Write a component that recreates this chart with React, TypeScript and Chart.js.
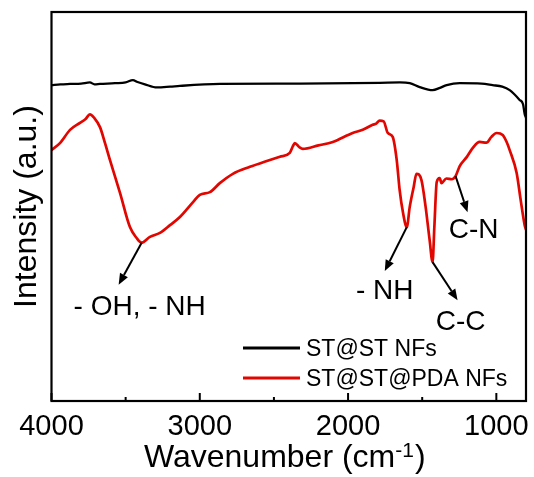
import { useEffect, useRef } from "react";
import { Chart, registerables } from "chart.js";

Chart.register(...registerables);

// ST@ST NFs spectrum (wavenumber in cm-1, intensity in arbitrary units)
const stWavenumber = [
  4000, 3940, 3875, 3800, 3741, 3710, 3673, 3572, 3500, 3451,
  3420, 3370, 3289, 3200, 3134, 2864, 2325, 1786, 1650, 1584,
  1517, 1430, 1380, 1335, 1247, 1100, 1025, 960, 910, 843,
  820, 809, 800,
];
const stIntensity = [
  81.2, 81.4, 81.5, 81.6, 81.9, 81.4, 81.5, 81.7, 81.9, 82.5,
  82.0, 81.4, 80.6, 80.8, 81.0, 81.5, 81.6, 81.8, 81.9, 81.7,
  80.7, 79.9, 80.5, 81.2, 81.7, 81.6, 81.2, 80.8, 79.9, 77.4,
  76.3, 73.8, 72.8,
];

// ST@ST@PDA NFs spectrum
const pdaWavenumber = [
  4000, 3943, 3875, 3808, 3770, 3741, 3712, 3673, 3639, 3606,
  3538, 3471, 3426, 3392, 3336, 3269, 3201, 3134, 3044, 3000,
  2932, 2865, 2777, 2662, 2548, 2460, 2393, 2372, 2359, 2330,
  2305, 2200, 2103, 1969, 1901, 1834, 1810, 1787, 1760, 1732,
  1699, 1672, 1652, 1629, 1604, 1584, 1557, 1539, 1505, 1477,
  1450, 1430, 1418, 1402, 1382, 1370, 1337, 1300, 1275, 1247,
  1200, 1160, 1112, 1067, 1033, 998, 957, 932, 910, 863,
  836, 809, 800,
];
const pdaIntensity = [
  64.5, 66.3, 69.7, 71.5, 72.5, 73.7, 72.8, 70.4, 66.3, 62.0,
  53.5, 44.7, 41.9, 40.7, 42.2, 43.2, 45.2, 47.3, 51.2, 53.0,
  53.7, 56.0, 58.4, 60.2, 61.7, 62.8, 63.8, 65.5, 66.3, 65.3,
  64.8, 65.7, 66.6, 68.9, 69.7, 71.0, 71.3, 72.1, 71.9, 68.9,
  67.9, 62.0, 54.2, 48.3, 44.7, 49.9, 55.1, 58.4, 56.8, 49.9,
  41.4, 35.7, 44.8, 56.3, 57.3, 56.0, 57.2, 57.0, 57.8, 60.4,
  62.7, 65.0, 66.6, 66.4, 67.9, 68.9, 68.4, 66.7, 64.5, 58.6,
  51.7, 45.2, 44.0,
];

const seriesLabels = ["ST@ST NFs", "ST@ST@PDA NFs"];
const seriesColors = ["#000000", "#e10600"];

const xMajorTicks = [4000, 3000, 2000, 1000];
const xMinorTicks = [3500, 2500, 1500];

// Assigned bands on the ST@ST@PDA NFs curve
const bandLabels = ["- OH, - NH", "- NH", "C-C", "C-N"];
const bandWavenumbers = [3392, 1604, 1430, 1275];

// Arrow tip and label offsets (px) from each band point
const bandArrowOffsets = [
  [-23, 42],
  [-22, 44],
  [25, 38],
  [12, 36],
];
const bandTextOffsets = [
  [-2, 72],
  [-22, 72],
  [28, 68],
  [18, 62],
];

const SANS = '"Liberation Sans", Arial, sans-serif';

function drawArrow(ctx: CanvasRenderingContext2D, x0: number, y0: number, x1: number, y1: number) {
  const ang = Math.atan2(y1 - y0, x1 - x0);
  const head = 11;
  const half = 4.5;
  const bx = x1 - head * Math.cos(ang);
  const by = y1 - head * Math.sin(ang);
  ctx.beginPath();
  ctx.moveTo(x0, y0);
  ctx.lineTo(bx, by);
  ctx.stroke();
  ctx.beginPath();
  ctx.moveTo(x1, y1);
  ctx.lineTo(bx + half * Math.sin(ang), by - half * Math.cos(ang));
  ctx.lineTo(bx - half * Math.sin(ang), by + half * Math.cos(ang));
  ctx.closePath();
  ctx.fill();
}

const overlay = {
  id: "spectrumOverlay",
  afterDatasetsDraw(chart: any) {
    const { ctx, chartArea, scales } = chart;
    const { left, right, top, bottom } = chartArea;
    const xs = scales.x;
    const ys = scales.y;
    ctx.save();

    // frame
    ctx.strokeStyle = "#000";
    ctx.lineWidth = 2.2;
    ctx.strokeRect(left, top, right - left, bottom - top);

    // inward tick marks
    ctx.lineWidth = 2;
    for (const v of xMajorTicks) {
      const px = xs.getPixelForValue(v);
      ctx.beginPath();
      ctx.moveTo(px, bottom);
      ctx.lineTo(px, bottom - 8);
      ctx.stroke();
    }
    for (const v of xMinorTicks) {
      const px = xs.getPixelForValue(v);
      ctx.beginPath();
      ctx.moveTo(px, bottom);
      ctx.lineTo(px, bottom - 4);
      ctx.stroke();
    }

    // band annotations
    ctx.fillStyle = "#000";
    ctx.strokeStyle = "#000";
    ctx.lineWidth = 2;
    ctx.font = `28px ${SANS}`;
    ctx.textAlign = "center";
    ctx.textBaseline = "alphabetic";
    bandLabels.forEach((label, i) => {
      const idx = pdaWavenumber.indexOf(bandWavenumbers[i]);
      const px = xs.getPixelForValue(pdaWavenumber[idx]);
      const py = ys.getPixelForValue(pdaIntensity[idx]);
      const [dx, dy] = bandArrowOffsets[i];
      drawArrow(ctx, px, py, px + dx, py + dy);
      const [tx, ty] = bandTextOffsets[i];
      ctx.fillText(label, px + tx, py + ty);
    });

    // legend
    const legendX = 243;
    const legendY = [348, 378];
    chart.data.datasets.forEach((ds: any, i: number) => {
      ctx.strokeStyle = ds.borderColor;
      ctx.lineWidth = 3;
      ctx.beginPath();
      ctx.moveTo(legendX, legendY[i]);
      ctx.lineTo(legendX + 57, legendY[i]);
      ctx.stroke();
      ctx.fillStyle = "#000";
      ctx.font = `23px ${SANS}`;
      ctx.textAlign = "left";
      ctx.fillText(ds.label, legendX + 63, legendY[i] + 8);
    });

    // x axis title with superscript
    const base = 467;
    const main = "Wavenumber (cm";
    const sup = "-1";
    const close = ")";
    ctx.fillStyle = "#000";
    ctx.textAlign = "left";
    ctx.font = `32px ${SANS}`;
    const wMain = ctx.measureText(main).width;
    const wClose = ctx.measureText(close).width;
    ctx.font = `21px ${SANS}`;
    const wSup = ctx.measureText(sup).width;
    const total = wMain + wSup + 1 + wClose;
    let cx = (left + right) / 2 - 4 - total / 2;
    ctx.font = `32px ${SANS}`;
    ctx.fillText(main, cx, base);
    cx += wMain;
    ctx.font = `21px ${SANS}`;
    ctx.fillText(sup, cx, base - 10);
    cx += wSup + 1;
    ctx.font = `32px ${SANS}`;
    ctx.fillText(close, cx, base);

    ctx.restore();
  },
};

export default function App() {
  const ref = useRef<HTMLCanvasElement>(null);

  useEffect(() => {
    document.body.style.margin = "0";
    const canvas = ref.current;
    if (!canvas) return;
    const chart = new Chart(canvas, {
      type: "line",
      data: {
        datasets: [
          {
            label: seriesLabels[0],
            data: stWavenumber.map((x, i) => ({ x, y: stIntensity[i] })),
            borderColor: seriesColors[0],
            borderWidth: 2.3,
            pointRadius: 0,
            cubicInterpolationMode: "monotone",
          },
          {
            label: seriesLabels[1],
            data: pdaWavenumber.map((x, i) => ({ x, y: pdaIntensity[i] })),
            borderColor: seriesColors[1],
            borderWidth: 2.7,
            pointRadius: 0,
            cubicInterpolationMode: "monotone",
          },
        ],
      },
      options: {
        responsive: false,
        animation: false,
        events: [],
        layout: { padding: { top: 12, right: 8, left: 0, bottom: 0 } },
        plugins: { legend: { display: false }, tooltip: { enabled: false } },
        scales: {
          x: {
            type: "linear",
            reverse: true,
            min: 800,
            max: 4000,
            grid: { display: false, drawTicks: false },
            border: { display: false },
            afterBuildTicks: (scale: any) => {
              scale.ticks = xMajorTicks.map((v) => ({ value: v }));
            },
            afterFit: (scale: any) => {
              scale.height = 76;
              scale.paddingLeft = 0;
              scale.paddingRight = 0;
            },
            ticks: {
              color: "#000",
              padding: 11,
              maxRotation: 0,
              autoSkip: false,
              font: { family: SANS, size: 29, lineHeight: 1 },
              callback: (v: any) => String(v),
            },
          },
          y: {
            min: 0,
            max: 100,
            grid: { display: false, drawTicks: false },
            border: { display: false },
            ticks: { display: false },
            afterFit: (scale: any) => {
              scale.width = 51.5;
            },
            title: {
              display: true,
              text: "Intensity (a.u.)",
              color: "#000",
              font: { family: SANS, size: 32, lineHeight: 1 },
              padding: { top: 11, bottom: 0 },
            },
          },
        },
      },
      plugins: [overlay],
    });
    return () => chart.destroy();
  }, []);

  return (
    <div style={{ width: 534, height: 477 }}>
      <canvas ref={ref} width={534} height={477} style={{ display: "block" }} />
    </div>
  );
}
